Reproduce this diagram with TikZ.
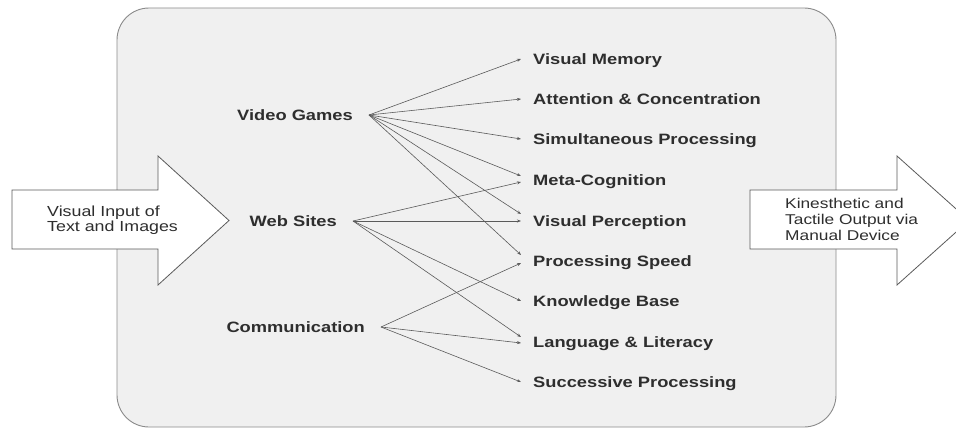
\documentclass[tikz,border=0pt]{standalone}
\usepackage{fontspec}
\setmainfont[FakeStretch=1.22]{Liberation Sans}
\usetikzlibrary{arrows.meta}

\definecolor{panelfill}{HTML}{F0F0F0}
\definecolor{panelline}{HTML}{8A8A8A}
\definecolor{linkgray}{HTML}{5A5A5A}
\definecolor{labelgray}{HTML}{2E2E2E}

\tikzset{
  skill/.style={anchor=west, inner xsep=12pt, inner ysep=0pt,
    text height=10.5pt, text depth=0pt, text=labelgray,
    font=\fontsize{15}{18}\selectfont\bfseries},
  medium/.style={anchor=east, inner xsep=16pt, inner ysep=0pt,
    text height=10.5pt, text depth=0pt, text=labelgray,
    font=\fontsize{15}{18}\selectfont\bfseries},
  link/.style={draw=linkgray, line width=0.6pt,
    -{Stealth[length=4pt, width=3pt]}},
  bigarrow/.style={draw=linkgray, fill=white, line width=0.8pt},
  arrowtext/.style={anchor=west, align=left, inner sep=0pt, text=labelgray}
}

\begin{document}
\begin{tikzpicture}[x=1pt, y=-1pt]
  \useasboundingbox (0,0) rectangle (956,428);
  \clip (0,0) rectangle (956,428);

  % Grey panel
  \draw[panelline, fill=panelfill, line width=0.9pt, rounded corners=32pt]
    (117,8) rectangle (836,427);

  % Input and output arrows
  \draw[bigarrow] (12,190) -- (158,190) -- (158,156) -- (229,220.5)
    -- (158,285) -- (158,249) -- (12,249) -- cycle;
  \node[arrowtext, font=\fontsize{14.6}{15.5}\selectfont] (input) at (47,220)
    {Visual Input of\\Text and Images};

  \draw[bigarrow] (750,190) -- (897,190) -- (897,156) -- (969,220.5)
    -- (897,285) -- (897,249) -- (750,249) -- cycle;
  \node[arrowtext, font=\fontsize{14.2}{16}\selectfont] (output) at (785,219)
    {Kinesthetic and\\Tactile Output via\\Manual Device};

  % Media
  \node[medium] (games) at (369,115) {Video Games};
  \node[medium] (web)   at (353,221) {Web Sites};
  \node[medium] (comm)  at (381,327) {Communication};

  % Skills
  \node[skill] (memory)     at (521,59)  {Visual Memory};
  \node[skill] (attention)  at (521,99)  {Attention \& Concentration};
  \node[skill] (simult)     at (521,139) {Simultaneous Processing};
  \node[skill] (meta)       at (521,180) {Meta-Cognition};
  \node[skill] (perception) at (521,221) {Visual Perception};
  \node[skill] (speed)      at (521,261) {Processing Speed};
  \node[skill] (knowledge)  at (521,301) {Knowledge Base};
  \node[skill] (language)   at (521,342) {Language \& Literacy};
  \node[skill] (successive) at (521,382) {Successive Processing};

  % Video games links
  \draw[link] (games.east) -- (memory.west);
  \draw[link] (games.east) -- (attention.west);
  \draw[link] (games.east) -- (simult.west);
  \draw[link] (games.east) -- ([yshift=4pt]meta.west);
  \draw[link] (games.east) -- ([yshift=7pt]perception.west);
  \draw[link] (games.east) -- ([yshift=6pt]speed.west);

  % Web sites links
  \draw[link] (web.east) -- ([yshift=-2pt]meta.west);
  \draw[link] (web.east) -- (perception.west);
  \draw[link] (web.east) -- (knowledge.west);
  \draw[link] (web.east) -- ([yshift=5pt]language.west);

  % Communication links
  \draw[link] (comm.east) -- ([yshift=-2pt]speed.west);
  \draw[link] (comm.east) -- ([yshift=-1pt]language.west);
  \draw[link] (comm.east) -- (successive.west);
\end{tikzpicture}
\end{document}
